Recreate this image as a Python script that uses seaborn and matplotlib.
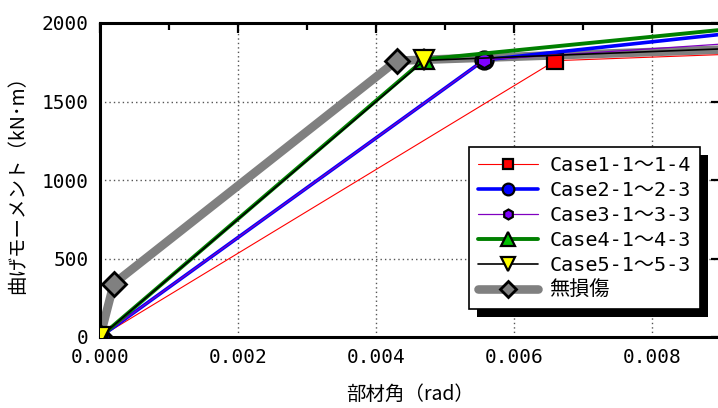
import matplotlib
matplotlib.use("Agg")
import matplotlib.pyplot as plt
from matplotlib.patches import Rectangle
from matplotlib.transforms import IdentityTransform
from matplotlib.ticker import MultipleLocator, FormatStrFormatter
import seaborn as sns

# Moment - rotation skeleton curves (rotation in rad, moment in kN·m)
labels = ["Case1-1～1-4", "Case2-1～2-3", "Case3-1～3-3",
          "Case4-1～4-3", "Case5-1～5-3", "無損傷"]
case1_x = [0.0, 0.0066, 0.010]
case1_y = [0, 1760, 1815]
case2_x = [0.0, 0.00557, 0.010]
case2_y = [0, 1765, 1975]
case3_x = [0.0, 0.00557, 0.010]
case3_y = [0, 1765, 1895]
case4_x = [0.0, 0.0047, 0.010]
case4_y = [0, 1768, 2000]
case5_x = [0.0, 0.0047, 0.010]
case5_y = [0, 1762, 1852]
intact_x = [0.0, 0.0002, 0.0043, 0.010]
intact_y = [0, 340, 1760, 1845]
x_ticks = [0.000, 0.002, 0.004, 0.006, 0.008]
y_ticks = [0, 500, 1000, 1500, 2000]

sns.set_style("white")
plt.rcParams["font.family"] = ["DejaVu Sans Mono", "Noto Sans CJK JP"]
plt.rcParams["text.color"] = "black"
plt.rcParams["axes.labelcolor"] = "black"
plt.rcParams["xtick.direction"] = "in"
plt.rcParams["ytick.direction"] = "in"

fig = plt.figure(figsize=(7.18, 4.08), dpi=100)
ax = fig.add_axes([100 / 718, 71 / 408, 621 / 718, 314 / 408])

styles = [
    dict(color="#ff0000", linewidth=0.8, marker="s", markersize=11,
         markerfacecolor="#ff0000"),
    dict(color="#0000ff", linewidth=2.6, marker="o", markersize=13,
         markerfacecolor="#0000ff"),
    dict(color="#8000c0", linewidth=0.9, marker="h", markersize=11,
         markerfacecolor="#7f00ff"),
    dict(color="#008000", linewidth=2.8, marker="^", markersize=15,
         markerfacecolor="#00c000"),
    dict(color="#000000", linewidth=1.2, marker="v", markersize=15,
         markerfacecolor="#ffff00"),
]

# Undamaged curve underneath the others
sns.lineplot(x=intact_x, y=intact_y, ax=ax, sort=False, estimator=None,
             color="#808080", linewidth=6.2, marker="D", markersize=12,
             markerfacecolor="#808080", markeredgecolor="black",
             markeredgewidth=2, zorder=2, legend=False)
intact_line = ax.lines[-1]
intact_line.set_label(labels[5])

case_lines = []
for xs, ys, st, lab in zip([case1_x, case2_x, case3_x, case4_x, case5_x],
                           [case1_y, case2_y, case3_y, case4_y, case5_y],
                           styles, labels[:5]):
    sns.lineplot(x=xs, y=ys, ax=ax, sort=False, estimator=None,
                 markeredgecolor="black", markeredgewidth=1.6,
                 zorder=3, legend=False, **st)
    ln = ax.lines[-1]
    ln.set_label(lab)
    case_lines.append(ln)

ax.set_xlim(0, 0.009)
ax.set_ylim(0, 2000)
ax.set_xticks(x_ticks)
ax.set_yticks(y_ticks)
ax.xaxis.set_major_formatter(FormatStrFormatter("%.3f"))
ax.xaxis.set_minor_locator(MultipleLocator(0.001))
ax.yaxis.set_minor_locator(MultipleLocator(250))
ax.tick_params(which="both", direction="in", top=True, right=True,
               labelsize=14, width=1.6, colors="black")
ax.tick_params(which="major", length=7, pad=8)
ax.tick_params(which="minor", length=5)
ax.tick_params(axis="y", which="minor", right=False)

ax.grid(True, which="major", color="#555555", linewidth=1,
        linestyle=(0, (1, 2.2)))
for side in ["left", "right", "top", "bottom"]:
    ax.spines[side].set_visible(True)
    ax.spines[side].set_color("black")
    ax.spines[side].set_linewidth(2.2)

ax.set_xlabel("部材角（rad）", fontsize=14, family=["Noto Sans CJK JP"],
              labelpad=12, color="black")
ax.set_ylabel("曲げモーメント（kN･m）", fontsize=14,
              family=["Noto Sans CJK JP"], labelpad=10, color="black")

leg = ax.legend(handles=case_lines + [intact_line], loc="lower right",
                bbox_to_anchor=(0.966, 0.089), borderaxespad=0,
                fontsize=14.5, markerscale=0.65, handlelength=3.0,
                handletextpad=0.55, labelspacing=0.3, borderpad=0.45,
                fancybox=False, framealpha=1, edgecolor="black")
leg.get_frame().set_linewidth(1.2)
leg.set_zorder(6)
for t in leg.get_texts():
    t.set_color("black")

# Solid drop shadow behind the legend box
fig.canvas.draw()
bb = leg.get_window_extent(fig.canvas.get_renderer())
shadow = Rectangle((bb.x0 + 8, bb.y0 - 8), bb.width, bb.height,
                   transform=IdentityTransform(), facecolor="black",
                   edgecolor="none", zorder=5.5, clip_on=False)
ax.add_artist(shadow)

fig.savefig("out.png", dpi=100)
